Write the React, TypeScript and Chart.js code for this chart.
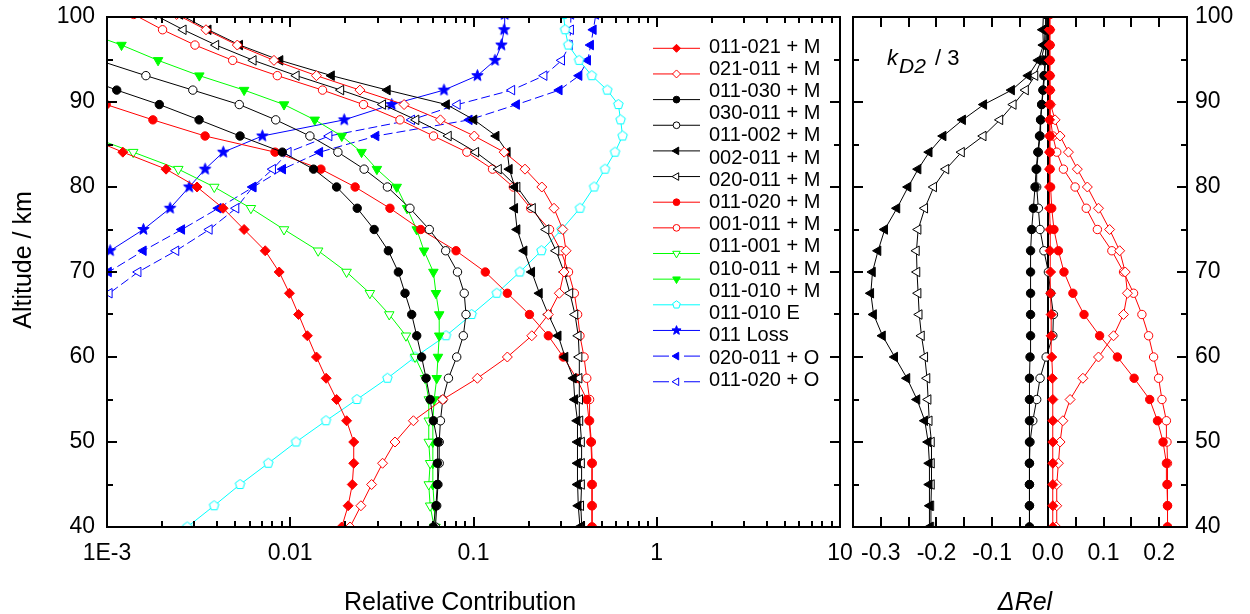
import React, { useEffect, useRef } from 'react';
import { Chart, registerables } from 'chart.js';

Chart.register(...registerables);

const FONT = '"Liberation Sans", Arial, Helvetica, sans-serif';

// ---------------- data ----------------
const ALTITUDE_KM = [40, 42.5, 45, 47.5, 50, 52.5, 55, 57.5, 60, 62.5, 65, 67.5, 70, 72.5, 75, 77.5, 80, 82.1, 84.1, 86.0, 87.9, 89.7, 91.4, 93.1, 94.9, 96.7, 98.5, 100.3];

// Relative contribution (left panel)
const REL_011_021_M = [0.0191, 0.0207, 0.0218, 0.0222, 0.0222, 0.0203, 0.0179, 0.0157, 0.0139, 0.0124, 0.0111, 0.0099, 0.0087, 0.0073, 0.0056, 0.0043, 0.0031, 0.0021, 0.00122, 0.00075, null, null, null, null, null, null, null, null];
const REL_021_011_M = [0.0212, 0.0243, 0.0278, 0.0319, 0.0373, 0.047, 0.068, 0.105, 0.153, 0.208, 0.256, 0.294, 0.312, 0.32, 0.307, 0.275, 0.236, 0.191, 0.147, 0.101, 0.066, 0.0418, 0.024, 0.0139, 0.00815, 0.00514, 0.00347, 0.0024];
const REL_011_030_M = [0.0604, 0.0624, 0.0635, 0.0635, 0.064, 0.0604, 0.058, 0.0551, 0.0521, 0.049, 0.046, 0.0423, 0.0389, 0.0343, 0.0287, 0.0232, 0.0179, 0.0134, 0.00905, 0.00532, 0.00318, 0.00193, 0.00113, 0.0007, null, null, null, null];
const REL_030_011_M = [0.062, 0.063, 0.064, 0.065, 0.065, 0.066, 0.068, 0.073, 0.081, 0.088, 0.091, 0.089, 0.0818, 0.0705, 0.0574, 0.045, 0.0339, 0.0253, 0.0182, 0.0128, 0.00833, 0.00527, 0.00294, 0.00163, 0.0009, null, null, null];
const REL_011_002_M = [0.381, 0.373, 0.37, 0.37, 0.37, 0.368, 0.357, 0.351, 0.316, 0.29, 0.256, 0.229, 0.208, 0.189, 0.173, 0.168, 0.168, 0.157, 0.153, 0.133, 0.1007, 0.0713, 0.0339, 0.0168, 0.0088, 0.0053, 0.00357, 0.0025];
const REL_020_011_M = [0.39, 0.385, 0.389, 0.389, 0.389, 0.381, 0.38, 0.377, 0.377, 0.373, 0.358, 0.336, 0.312, 0.282, 0.249, 0.21, 0.173, 0.137, 0.103, 0.073, 0.0486, 0.032, 0.0189, 0.0108, 0.00629, 0.00393, 0.00261, 0.0018];
const REL_011_020_M = [0.442, 0.442, 0.442, 0.442, 0.437, 0.427, 0.415, 0.365, 0.309, 0.256, 0.202, 0.153, 0.116, 0.0803, 0.0515, 0.035, 0.0226, 0.0147, 0.00826, 0.00343, 0.00178, 0.00099, 0.0006, null, null, null, null, null];
const REL_001_011_M = [0.445, 0.445, 0.445, 0.445, 0.44, 0.43, 0.43, 0.415, 0.401, 0.381, 0.37, 0.355, 0.33, 0.3, 0.26, 0.205, 0.165, 0.127, 0.092, 0.0605, 0.0397, 0.0251, 0.015, 0.0085, 0.00485, 0.00302, 0.00201, 0.0014];
const REL_011_001_M = [0.061, 0.058, 0.057, 0.058, 0.057, 0.057, 0.057, 0.0544, 0.048, 0.0428, 0.0347, 0.0272, 0.0203, 0.0142, 0.00925, 0.0061, 0.00385, 0.00245, 0.00139, 0.0008, null, null, null, null, null, null, null, null];
const REL_010_011_M = [0.062, 0.061, 0.06, 0.06, 0.06, 0.06, 0.061, 0.063, 0.064, 0.065, 0.065, 0.0624, 0.0604, 0.0537, 0.049, 0.0434, 0.0381, 0.0297, 0.0245, 0.0191, 0.0136, 0.00925, 0.0056, 0.00319, 0.0019, 0.0012, 0.0007, null];
const REL_011_010_E = [0.00274, 0.00384, 0.00532, 0.00759, 0.01075, 0.01567, 0.0231, 0.0339, 0.048, 0.0708, 0.0977, 0.134, 0.179, 0.235, 0.303, 0.381, 0.455, 0.522, 0.592, 0.651, 0.635, 0.617, 0.537, 0.442, 0.377, 0.329, 0.316, 0.31];
const REL_011_LOSS = [null, null, null, null, null, null, null, null, null, null, null, null, 0.00068, 0.00104, 0.00158, 0.00221, 0.00281, 0.00343, 0.00431, 0.00704, 0.0197, 0.0358, 0.069, 0.105, 0.131, 0.142, 0.147, 0.148];
const REL_020_011_O = [null, null, null, null, null, null, null, null, null, null, null, 0.00065, 0.00102, 0.00158, 0.00256, 0.00405, 0.00629, 0.0091, 0.0145, 0.0294, 0.0949, 0.172, 0.294, 0.377, 0.42, 0.436, 0.451, 0.465];
const REL_011_020_O = [null, null, null, null, null, null, null, null, null, null, 0.0007, 0.00103, 0.00148, 0.00238, 0.00362, 0.00506, 0.00624, 0.00802, 0.00976, 0.0163, 0.046, 0.0817, 0.162, 0.243, 0.303, 0.334, 0.339, 0.34];

// Delta Rel (right panel)
const DREL_011_021_M = [0.009, 0.009, 0.009, 0.009, 0.009, 0.009, 0.009, 0.008, 0.007, 0.006, 0.006, 0.005, 0.005, 0.004, 0.004, 0.003, 0.003, 0.003, 0.003, 0.003, 0.003, 0.003, 0.003, 0.003, 0.003, 0.003, 0.003, 0.003];
const DREL_021_011_M = [0.015, 0.016, 0.016, 0.019, 0.022, 0.027, 0.04, 0.063, 0.091, 0.118, 0.136, 0.143, 0.139, 0.129, 0.111, 0.091, 0.071, 0.053, 0.037, 0.022, 0.013, 0.005, 0.004, 0.003, 0.003, 0.003, 0.003, 0.003];
const DREL_011_030_M = [-0.033, -0.033, -0.033, -0.033, -0.033, -0.033, -0.033, -0.033, -0.032, -0.031, -0.031, -0.031, -0.031, -0.031, -0.029, -0.026, -0.023, -0.021, -0.018, -0.015, -0.013, -0.011, -0.009, -0.007, -0.005, -0.004, -0.003, -0.003];
const DREL_030_011_M = [-0.033, -0.033, -0.033, -0.033, -0.032, -0.027, -0.02, -0.014, -0.003, 0.009, 0.01, 0.005, 0.001, -0.007, -0.014, -0.017, -0.02, -0.02, -0.017, -0.014, -0.013, -0.011, -0.008, -0.006, -0.004, -0.003, -0.002, -0.002];
const DREL_011_002_M = [-0.212, -0.212, -0.213, -0.213, -0.215, -0.221, -0.235, -0.253, -0.275, -0.297, -0.313, -0.318, -0.315, -0.305, -0.293, -0.271, -0.251, -0.233, -0.213, -0.188, -0.153, -0.115, -0.065, -0.035, -0.017, -0.008, -0.009, -0.008];
const DREL_020_011_M = [-0.21, -0.21, -0.209, -0.209, -0.209, -0.213, -0.215, -0.217, -0.221, -0.227, -0.231, -0.233, -0.235, -0.236, -0.233, -0.221, -0.205, -0.183, -0.155, -0.116, -0.086, -0.062, -0.04, -0.023, -0.012, -0.006, -0.005, -0.004];
const DREL_011_020_M = [0.215, 0.215, 0.214, 0.213, 0.207, 0.197, 0.183, 0.155, 0.125, 0.093, 0.065, 0.045, 0.029, 0.019, 0.011, 0.007, 0.005, 0.004, 0.004, 0.004, 0.004, 0.004, 0.004, 0.004, 0.004, 0.004, 0.004, 0.004];
const DREL_001_011_M = [0.215, 0.215, 0.215, 0.215, 0.214, 0.213, 0.205, 0.199, 0.19, 0.181, 0.169, 0.154, 0.136, 0.115, 0.089, 0.069, 0.049, 0.028, 0.016, 0.009, 0.005, 0.004, 0.003, 0.003, 0.003, 0.003, 0.003, 0.003];

// ticks and labels
const REL_TICKS = [0.001, 0.01, 0.1, 1, 10];
const REL_TICK_LABELS = ['1E-3', '0.01', '0.1', '1', '10'];
const REL_MINOR_MULTIPLIERS = [2, 3, 4, 5, 6, 7, 8, 9];
const DREL_TICKS = [-0.3, -0.2, -0.1, 0, 0.1, 0.2];
const DREL_TICK_LABELS = ['-0.3', '-0.2', '-0.1', '0.0', '0.1', '0.2'];
const DREL_MINOR_TICKS = [-0.3, -0.25, -0.2, -0.15, -0.1, -0.05, 0, 0.05, 0.1, 0.15, 0.2];
const ALT_TICKS = [40, 50, 60, 70, 80, 90, 100];
const ALT_MINOR_TICKS = [45, 55, 65, 75, 85, 95];

const LEGEND_LABELS = [
  '011-021 + M', '021-011 + M', '011-030 + M', '030-011 + M', '011-002 + M', '002-011 + M',
  '020-011 + M', '011-020 + M', '001-011 + M', '011-001 + M', '010-011 + M', '011-010 + M',
  '011-010 E', '011 Loss', '020-011 + O', '011-020 + O',
];

// ---------------- styles ----------------
const RED = '#ff0000';
const BLACK = '#000000';
const GREEN = '#00ff00';
const CYAN = '#00ffff';
const BLUE = '#0000ff';

// canvases are shifted up by this amount so the plot top lands at page y = 17
const OY = 30;

type Shape = 'circle' | 'diamond' | 'tri' | 'star' | 'pent';
interface Style { color: string; shape: Shape; filled: boolean; rot?: number; dash?: boolean; r: number }

const ST_A: Style = { color: RED, shape: 'diamond', filled: true, r: 5 };
const ST_B: Style = { color: RED, shape: 'diamond', filled: false, r: 5 };
const ST_C: Style = { color: BLACK, shape: 'circle', filled: true, r: 4.2 };
const ST_D: Style = { color: BLACK, shape: 'circle', filled: false, r: 4.2 };
const ST_E: Style = { color: BLACK, shape: 'tri', rot: -90, filled: true, r: 5.5 };
const ST_F: Style = { color: BLACK, shape: 'tri', rot: -90, filled: false, r: 5.5 };
const ST_G: Style = { color: RED, shape: 'circle', filled: true, r: 4.2 };
const ST_H: Style = { color: RED, shape: 'circle', filled: false, r: 4.2 };
const ST_I: Style = { color: GREEN, shape: 'tri', rot: 180, filled: false, r: 5.5 };
const ST_J: Style = { color: GREEN, shape: 'tri', rot: 180, filled: true, r: 5.5 };
const ST_K: Style = { color: CYAN, shape: 'pent', filled: false, r: 5 };
const ST_L: Style = { color: BLUE, shape: 'star', filled: true, r: 6 };
const ST_M: Style = { color: BLUE, shape: 'tri', rot: -90, filled: true, dash: true, r: 5.5 };
const ST_N: Style = { color: BLUE, shape: 'tri', rot: -90, filled: false, dash: true, r: 5.5 };

const LEGEND_STYLES = [ST_A, ST_B, ST_C, ST_D, ST_E, ST_F, ST_G, ST_H, ST_I, ST_J, ST_K, ST_L, ST_M, ST_N];

function pathShape(ctx: CanvasRenderingContext2D, s: Style, x: number, y: number, r: number) {
  ctx.beginPath();
  if (s.shape === 'circle') {
    ctx.arc(x, y, r, 0, Math.PI * 2);
  } else if (s.shape === 'diamond') {
    ctx.moveTo(x - r, y); ctx.lineTo(x, y - r); ctx.lineTo(x + r, y); ctx.lineTo(x, y + r);
  } else if (s.shape === 'tri') {
    let rad = ((s.rot || 0) * Math.PI) / 180;
    for (let k = 0; k < 3; k++) {
      const px = x + Math.sin(rad) * r, py = y - Math.cos(rad) * r;
      if (k === 0) ctx.moveTo(px, py); else ctx.lineTo(px, py);
      rad += (2 * Math.PI) / 3;
    }
  } else if (s.shape === 'star') {
    for (let k = 0; k < 10; k++) {
      const a = -Math.PI / 2 + (k * Math.PI) / 5;
      const rr = k % 2 === 0 ? r : r * 0.42;
      const px = x + Math.cos(a) * rr, py = y + Math.sin(a) * rr;
      if (k === 0) ctx.moveTo(px, py); else ctx.lineTo(px, py);
    }
  } else if (s.shape === 'pent') {
    for (let k = 0; k < 5; k++) {
      const a = -Math.PI / 2 + (k * 2 * Math.PI) / 5;
      const px = x + Math.cos(a) * r, py = y + Math.sin(a) * r;
      if (k === 0) ctx.moveTo(px, py); else ctx.lineTo(px, py);
    }
  }
  ctx.closePath();
}

function drawMarker(ctx: CanvasRenderingContext2D, s: Style, x: number, y: number, r: number) {
  ctx.save();
  ctx.setLineDash([]);
  ctx.lineWidth = 1;
  ctx.strokeStyle = s.color;
  ctx.fillStyle = s.filled ? s.color : '#ffffff';
  pathShape(ctx, s, x, y, r);
  ctx.fill();
  ctx.stroke();
  ctx.restore();
}

function markerCanvas(s: Style) {
  const size = Math.ceil(s.r * 2) + 3;
  const c = document.createElement('canvas');
  c.width = size; c.height = size;
  const ctx = c.getContext('2d') as CanvasRenderingContext2D;
  drawMarker(ctx, s, size / 2, size / 2, s.r);
  return c;
}

function makeDataset(values: (number | null)[], s: Style, imgs: Record<string, HTMLCanvasElement>) {
  let pointStyle: any = 'circle';
  if (s.shape === 'diamond') pointStyle = 'rectRot';
  else if (s.shape === 'tri') pointStyle = 'triangle';
  else if (s.shape === 'star' || s.shape === 'pent') pointStyle = imgs[s.shape];
  return {
    data: ALTITUDE_KM.map((a, i) => ({ x: values[i], y: a })),
    showLine: true,
    borderColor: s.color,
    borderWidth: 1,
    borderDash: s.dash ? [9, 4] : [],
    pointStyle,
    pointRadius: s.r,
    pointHoverRadius: s.r,
    pointRotation: s.rot || 0,
    pointBackgroundColor: s.filled ? s.color : '#ffffff',
    pointBorderColor: s.color,
    pointBorderWidth: 1,
    clip: 0,
    tension: 0,
    fill: false,
  };
}

function makeFrame(xTicks: { v: number; len: number }[], yTicks: { v: number; len: number }[], zeroLine: boolean) {
  return {
    id: 'frame',
    beforeDatasetsDraw(chart: any) {
      if (!zeroLine) return;
      const { ctx, chartArea } = chart;
      const p = Math.round(chart.scales.x.getPixelForValue(0));
      ctx.save();
      ctx.strokeStyle = '#000'; ctx.lineWidth = 2;
      ctx.beginPath(); ctx.moveTo(p, chartArea.top); ctx.lineTo(p, chartArea.bottom); ctx.stroke();
      ctx.restore();
    },
    afterDraw(chart: any) {
      const { ctx, chartArea } = chart;
      const { left, right, top, bottom } = chartArea;
      const xs = chart.scales.x, ys = chart.scales.y;
      ctx.save();
      ctx.strokeStyle = '#000';
      ctx.lineWidth = 2;
      ctx.setLineDash([]);
      ctx.beginPath();
      xTicks.forEach((t) => {
        const p = Math.round(xs.getPixelForValue(t.v));
        ctx.moveTo(p, bottom); ctx.lineTo(p, bottom - t.len);
        ctx.moveTo(p, top); ctx.lineTo(p, top + t.len);
      });
      yTicks.forEach((t) => {
        const p = Math.round(ys.getPixelForValue(t.v));
        ctx.moveTo(left, p); ctx.lineTo(left + t.len, p);
        ctx.moveTo(right, p); ctx.lineTo(right - t.len, p);
      });
      ctx.stroke();
      ctx.strokeRect(left, top, right - left, bottom - top);
      ctx.restore();
    },
  };
}

const leftTextPlugin = {
  id: 'leftText',
  afterDraw(chart: any) {
    const ctx: CanvasRenderingContext2D = chart.ctx;
    ctx.save();
    ctx.translate(0, OY);
    // legend samples
    LEGEND_STYLES.forEach((s, i) => {
      const y = 48.3 + i * 25.65;
      ctx.strokeStyle = s.color;
      ctx.lineWidth = 1;
      ctx.beginPath();
      if (s.dash) {
        ctx.moveTo(653, y); ctx.lineTo(669, y);
        ctx.moveTo(684, y); ctx.lineTo(700, y);
      } else {
        ctx.moveTo(653, y); ctx.lineTo(700, y);
      }
      ctx.stroke();
      drawMarker(ctx, s, 676.5, y, s.r * 0.8);
    });
    ctx.fillStyle = '#000';
    ctx.font = `20px ${FONT}`;
    ctx.textAlign = 'left';
    ctx.textBaseline = 'middle';
    LEGEND_LABELS.forEach((t, j) => ctx.fillText(t, 709, 47 + j * 22.22));
    // axis titles
    ctx.font = `25px ${FONT}`;
    ctx.textAlign = 'center';
    ctx.textBaseline = 'alphabetic';
    ctx.fillText('Relative Contribution', 460, 610);
    ctx.translate(31, 260);
    ctx.rotate(-Math.PI / 2);
    ctx.fillText('Altitude / km', 0, 0);
    ctx.restore();
  },
};

const rightTextPlugin = {
  id: 'rightText',
  afterDraw(chart: any) {
    const ctx: CanvasRenderingContext2D = chart.ctx;
    ctx.save();
    ctx.translate(0, OY);
    ctx.fillStyle = '#000';
    ctx.textBaseline = 'alphabetic';
    ctx.textAlign = 'center';
    ctx.font = `italic 25px ${FONT}`;
    ctx.fillText('\u0394Rel', 185, 610);
    ctx.textAlign = 'left';
    ctx.font = `italic 22px ${FONT}`;
    ctx.fillText('k', 47, 65);
    ctx.font = `italic 21px ${FONT}`;
    ctx.fillText('D2', 59, 73);
    ctx.font = `22px ${FONT}`;
    ctx.fillText('/ 3', 95, 65);
    ctx.restore();
  },
};

export default function App() {
  const leftRef = useRef<HTMLCanvasElement>(null);
  const rightRef = useRef<HTMLCanvasElement>(null);

  useEffect(() => {
    Chart.defaults.font.family = FONT;
    Chart.defaults.color = '#000';
    const imgs = { star: markerCanvas(ST_L), pent: markerCanvas(ST_K) };

    const altTicks = [
      ...ALT_TICKS.map((v) => ({ v, len: 10 })),
      ...ALT_MINOR_TICKS.map((v) => ({ v, len: 6 })),
    ];
    const relTicks: { v: number; len: number }[] = [];
    REL_TICKS.forEach((d, i) => {
      relTicks.push({ v: d, len: 10 });
      if (i < REL_TICKS.length - 1) REL_MINOR_MULTIPLIERS.forEach((m) => relTicks.push({ v: m * d, len: 6 }));
    });
    const drelTicks = DREL_MINOR_TICKS.map((v) => ({ v, len: 10 }));

    const leftDatasets = [
      makeDataset(REL_011_021_M, ST_A, imgs),
      makeDataset(REL_021_011_M, ST_B, imgs),
      makeDataset(REL_011_030_M, ST_C, imgs),
      makeDataset(REL_030_011_M, ST_D, imgs),
      makeDataset(REL_011_002_M, ST_E, imgs),
      makeDataset(REL_020_011_M, ST_F, imgs),
      makeDataset(REL_011_020_M, ST_G, imgs),
      makeDataset(REL_001_011_M, ST_H, imgs),
      makeDataset(REL_011_001_M, ST_I, imgs),
      makeDataset(REL_010_011_M, ST_J, imgs),
      makeDataset(REL_011_010_E, ST_K, imgs),
      makeDataset(REL_011_LOSS, ST_L, imgs),
      makeDataset(REL_020_011_O, ST_M, imgs),
      makeDataset(REL_011_020_O, ST_N, imgs),
    ];
    const rightDatasets = [
      makeDataset(DREL_011_021_M, ST_A, imgs),
      makeDataset(DREL_021_011_M, ST_B, imgs),
      makeDataset(DREL_011_030_M, ST_C, imgs),
      makeDataset(DREL_030_011_M, ST_D, imgs),
      makeDataset(DREL_011_002_M, ST_E, imgs),
      makeDataset(DREL_020_011_M, ST_F, imgs),
      makeDataset(DREL_011_020_M, ST_G, imgs),
      makeDataset(DREL_001_011_M, ST_H, imgs),
    ];

    const common = {
      animation: false,
      responsive: false,
      maintainAspectRatio: false,
      devicePixelRatio: 1,
      events: [],
      plugins: { legend: { display: false }, tooltip: { enabled: false } },
    };

    const left = new Chart(leftRef.current as HTMLCanvasElement, {
      type: 'scatter',
      data: { datasets: leftDatasets as any },
      options: {
        ...common,
        layout: { padding: { top: 17 + OY, right: 60, left: 0, bottom: 0 } },
        scales: {
          x: {
            type: 'logarithmic',
            position: 'bottom',
            min: 0.001,
            max: 10,
            afterBuildTicks: (s: any) => { s.ticks = REL_TICKS.map((v) => ({ value: v, major: false })); },
            afterFit: (s: any) => { s.height = 87; },
            grid: { display: false, drawTicks: false },
            border: { display: false },
            ticks: {
              callback: (_v: any, i: number) => REL_TICK_LABELS[i],
              font: { size: 23 },
              color: '#000',
              padding: 13,
              maxRotation: 0,
              autoSkip: false,
            },
          },
          y: {
            type: 'linear',
            position: 'left',
            min: 40,
            max: 100,
            afterBuildTicks: (s: any) => { s.ticks = ALT_TICKS.map((v) => ({ value: v })); },
            afterFit: (s: any) => { s.width = 107; },
            grid: { display: false, drawTicks: false },
            border: { display: false },
            ticks: { font: { size: 23 }, color: '#000', padding: 12, autoSkip: false },
          },
        },
      } as any,
      plugins: [makeFrame(relTicks, altTicks, false), leftTextPlugin],
    });

    const right = new Chart(rightRef.current as HTMLCanvasElement, {
      type: 'scatter',
      data: { datasets: rightDatasets as any },
      options: {
        ...common,
        layout: { padding: { top: 17 + OY, right: 0, left: 13, bottom: 0 } },
        scales: {
          x: {
            type: 'linear',
            position: 'bottom',
            min: -0.35,
            max: 0.25,
            afterBuildTicks: (s: any) => { s.ticks = DREL_TICKS.map((v) => ({ value: v })); },
            afterFit: (s: any) => { s.height = 87; },
            grid: { display: false, drawTicks: false },
            border: { display: false },
            ticks: {
              callback: (_v: any, i: number) => DREL_TICK_LABELS[i],
              font: { size: 23 },
              color: '#000',
              padding: 13,
              maxRotation: 0,
              autoSkip: false,
            },
          },
          y: {
            type: 'linear',
            position: 'right',
            min: 40,
            max: 100,
            afterBuildTicks: (s: any) => { s.ticks = ALT_TICKS.map((v) => ({ value: v })); },
            afterFit: (s: any) => { s.width = 63; },
            grid: { display: false, drawTicks: false },
            border: { display: false },
            ticks: { font: { size: 23 }, color: '#000', padding: 8, autoSkip: false },
          },
        },
      } as any,
      plugins: [makeFrame(drelTicks, altTicks, true), rightTextPlugin],
    });

    return () => {
      left.destroy();
      right.destroy();
    };
  }, []);

  const H = 614 + OY;
  return (
    <div style={{ position: 'fixed', left: 0, top: 0, width: 1250, height: 614, background: '#ffffff', overflow: 'hidden' }}>
      <canvas ref={leftRef} width={900} height={H} style={{ position: 'absolute', left: 0, top: -OY, width: 900, height: H }} />
      <canvas ref={rightRef} width={410} height={H} style={{ position: 'absolute', left: 840, top: -OY, width: 410, height: H }} />
    </div>
  );
}
